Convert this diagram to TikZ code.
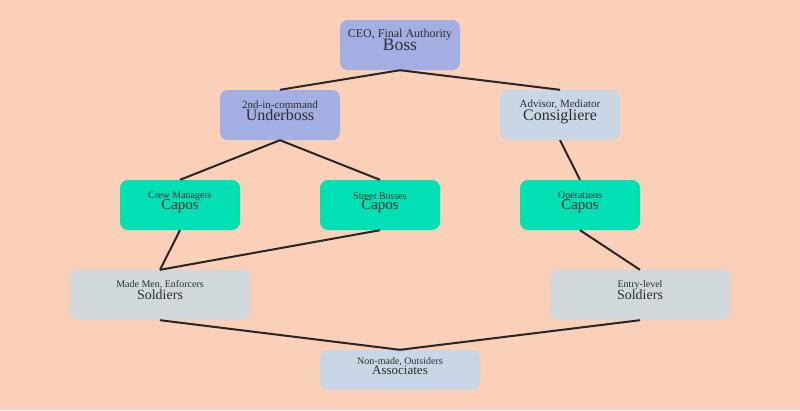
\documentclass[tikz,border=0pt]{standalone}
\usepackage{fontspec}
\setmainfont{Liberation Serif}
\definecolor{bgpeach}{HTML}{FAD0B9}
\definecolor{topblue}{HTML}{A3AEE3}
\definecolor{paleblue}{HTML}{C9D6E6}
\definecolor{capogreen}{HTML}{00E0B4}
\definecolor{soldiergrey}{HTML}{D1D8DC}
\definecolor{inkgrey}{HTML}{2E2E2E}
\tikzset{
	rank/.style={rounded corners=8bp, inner sep=0pt, text=inkgrey, text depth=0pt, minimum height=50bp, minimum width=120bp},
	role/.style={inner sep=0pt, text=inkgrey},
	tie/.style={line width=2bp, draw=black!85}
}
\begin{document}
\begin{tikzpicture}[x=1bp, y=-1bp]
	\fill[bgpeach] (0,0) rectangle (800,410);
	\useasboundingbox (0,0) rectangle (800,410);
	% ranks
	\node[rank, fill=topblue] (boss) at (400,45) {\fontsize{17.5bp}{20bp}\selectfont Boss};
	\node[rank, fill=topblue] (under) at (280,115) {\fontsize{16bp}{18bp}\selectfont Underboss};
	\node[rank, fill=paleblue] (consig) at (560,115) {\fontsize{16bp}{18bp}\selectfont Consigliere};
	\node[rank, fill=capogreen] (capoA) at (180,205) {\fontsize{15bp}{17bp}\selectfont Capos};
	\node[rank, fill=capogreen] (capoB) at (380,205) {\fontsize{15bp}{17bp}\selectfont Capos};
	\node[rank, fill=capogreen] (capoC) at (580,205) {\fontsize{15bp}{17bp}\selectfont Capos};
	\node[rank, fill=soldiergrey, minimum width=180bp] (soldA) at (160,295) {\fontsize{14bp}{16bp}\selectfont Soldiers};
	\node[rank, fill=soldiergrey, minimum width=180bp] (soldB) at (640,295) {\fontsize{14bp}{16bp}\selectfont Soldiers};
	\node[rank, fill=paleblue, minimum width=160bp, minimum height=40bp] (assoc) at (400,370) {\fontsize{13bp}{15bp}\selectfont Associates};
	% roles
	\node[role] (bossrole) at ([yshift=10bp]boss.center) {\fontsize{12bp}{14bp}\selectfont CEO, Final Authority};
	\node[role] (underrole) at ([yshift=10bp]under.center) {\fontsize{11bp}{13bp}\selectfont 2nd-in-command};
	\node[role] (consigrole) at ([yshift=10bp]consig.center) {\fontsize{11bp}{13bp}\selectfont Advisor, Mediator};
	\node[role] (capoArole) at ([yshift=9bp]capoA.center) {\fontsize{10bp}{12bp}\selectfont Crew Managers};
	\node[role] (capoBrole) at ([yshift=9bp]capoB.center) {\fontsize{10bp}{12bp}\selectfont Street Bosses};
	\node[role] (capoCrole) at ([yshift=9bp]capoC.center) {\fontsize{10bp}{12bp}\selectfont Operations};
	\node[role] (soldArole) at ([yshift=10bp]soldA.center) {\fontsize{10bp}{12bp}\selectfont Made Men, Enforcers};
	\node[role] (soldBrole) at ([yshift=10bp]soldB.center) {\fontsize{10bp}{12bp}\selectfont Entry-level};
	\node[role] (assocrole) at ([yshift=8bp]assoc.center) {\fontsize{10bp}{12bp}\selectfont Non-made, Outsiders};
	% ties
	\draw[tie] (boss.south) -- (under.north);
	\draw[tie] (boss.south) -- (consig.north);
	\draw[tie] (under.south) -- (capoA.north);
	\draw[tie] (under.south) -- (capoB.north);
	\draw[tie] (consig.south) -- (capoC.north);
	\draw[tie] (capoA.south) -- (soldA.north);
	\draw[tie] (capoB.south) -- (soldA.north);
	\draw[tie] (capoC.south) -- (soldB.north);
	\draw[tie] (soldA.south) -- (assoc.north);
	\draw[tie] (soldB.south) -- (assoc.north);
\end{tikzpicture}
\end{document}
